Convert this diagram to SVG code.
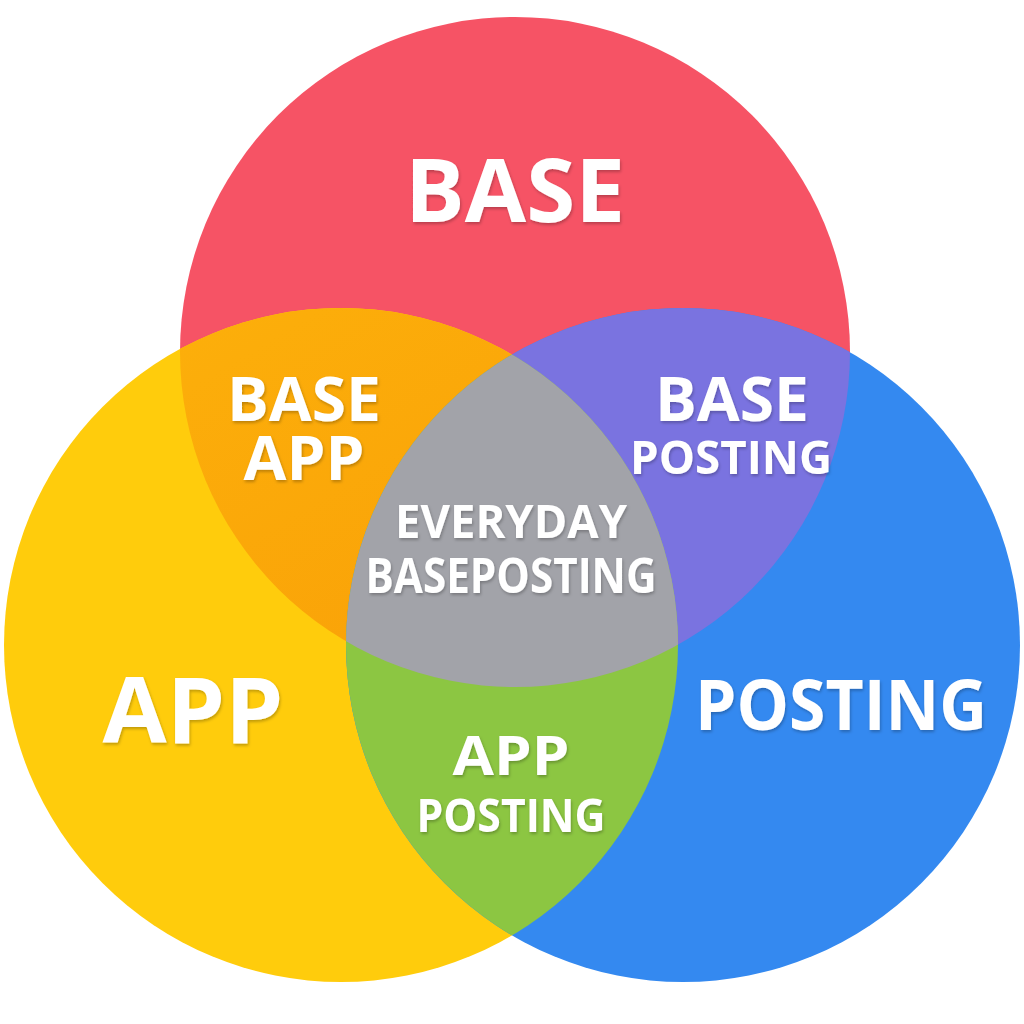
<svg xmlns="http://www.w3.org/2000/svg" width="1024" height="1024" viewBox="0 0 1024 1024">
  <defs>
    <clipPath id="cR"><circle cx="515" cy="352" r="335"/></clipPath>
    <clipPath id="cY"><circle cx="341" cy="645" r="337"/></clipPath>
    <clipPath id="cB"><circle cx="683" cy="645" r="337"/></clipPath>
    <linearGradient id="gOr" x1="0" y1="0" x2="0.6" y2="1">
      <stop offset="0" stop-color="#FDB20B"/>
      <stop offset="1" stop-color="#F89A06"/>
    </linearGradient>
    <filter id="sh" x="-10%" y="-20%" width="120%" height="150%">
      <feDropShadow dx="1" dy="2" stdDeviation="1.5" flood-color="#000" flood-opacity="0.25"/>
    </filter>
  </defs>
  <style>
    .lbl { font-family: "Open Sans", "Noto Sans", "Liberation Sans", sans-serif; font-weight: 700; fill: #FFFFFF; text-anchor: middle; filter: url(#sh); }
  </style>
  <rect width="1024" height="1024" fill="#FFFFFF"/>
  <g id="circle-base"><circle cx="515" cy="352" r="335" fill="#F65365"/></g>
  <g id="circle-app"><circle cx="341" cy="645" r="337" fill="#FFCC0C"/></g>
  <g id="circle-posting"><circle cx="683" cy="645" r="337" fill="#3489F0"/></g>
  <g id="base-app"><circle cx="341" cy="645" r="337" fill="url(#gOr)" clip-path="url(#cR)"/></g>
  <g id="base-posting"><circle cx="683" cy="645" r="337" fill="#7A73E0" clip-path="url(#cR)"/></g>
  <g id="app-posting"><circle cx="683" cy="645" r="337" fill="#8CC642" clip-path="url(#cY)"/></g>
  <g id="everyday" clip-path="url(#cR)"><circle cx="683" cy="645" r="337" fill="#A2A3A9" clip-path="url(#cY)"/></g>
  <g id="labels">
    <text class="lbl" x="515" y="222" font-size="88" textLength="220" lengthAdjust="spacingAndGlyphs">BASE</text>
    <text class="lbl" x="304" y="421" font-size="60" textLength="154" lengthAdjust="spacingAndGlyphs">BASE</text>
    <text class="lbl" x="304" y="480" font-size="60" textLength="121" lengthAdjust="spacingAndGlyphs">APP</text>
    <text class="lbl" x="732" y="421" font-size="60" textLength="154" lengthAdjust="spacingAndGlyphs">BASE</text>
    <text class="lbl" x="731" y="474" font-size="46" textLength="202" lengthAdjust="spacingAndGlyphs">POSTING</text>
    <text class="lbl" x="511" y="538" font-size="46" textLength="232" lengthAdjust="spacingAndGlyphs">EVERYDAY</text>
    <text class="lbl" x="511" y="593" font-size="48" textLength="291" lengthAdjust="spacingAndGlyphs">BASEPOSTING</text>
    <text class="lbl" x="193" y="743" font-size="92" textLength="181" lengthAdjust="spacingAndGlyphs">APP</text>
    <text class="lbl" x="841" y="730" font-size="70" textLength="292" lengthAdjust="spacingAndGlyphs">POSTING</text>
    <text class="lbl" x="511" y="775" font-size="53" textLength="117" lengthAdjust="spacingAndGlyphs">APP</text>
    <text class="lbl" x="511" y="832" font-size="47" textLength="189" lengthAdjust="spacingAndGlyphs">POSTING</text>
  </g>
</svg>
